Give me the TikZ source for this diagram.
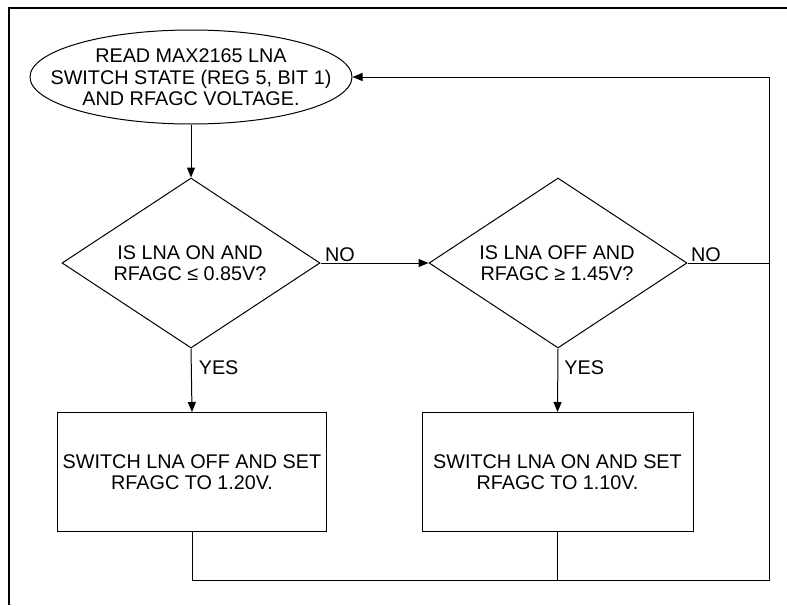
\documentclass[tikz,border=0pt]{standalone}
\usepackage{fontspec}
\setmainfont{Liberation Sans}
\usetikzlibrary{shapes.geometric,arrows.meta}
\begin{document}
\begin{tikzpicture}[x=1pt,y=-1pt,
  line width=1pt,
  every node/.style={font=\fontsize{19.8}{21.5}\selectfont, align=center, inner sep=0pt},
  flow/.style={-{Triangle[length=10pt,width=8pt]}},
  lbl/.style={anchor=west},
  dec/.style={draw, diamond, minimum width=258pt, minimum height=170pt}]
\useasboundingbox (0,0) rectangle (787,605);
\draw[line width=1.6pt] (9,605) -- (9,8) -- (787,8);
\node[draw, ellipse, minimum width=322pt, minimum height=94pt] (read) at (191,77) {};
\node (readtxt) at (191,77.5)
  {READ MAX2165 LNA\\SWITCH STATE (REG 5, BIT 1)\\AND RFAGC VOLTAGE.};
\node[dec] (d1) at (191,263) {};
\node (t1) at (190,263) {IS LNA ON AND\\RFAGC ≤ 0.85V?};
\node[dec] (d2) at (558,263) {};
\node (t2) at (557,263) {IS LNA OFF AND\\RFAGC ≥ 1.45V?};
\node[draw, minimum width=269pt, minimum height=119pt] (b1) at (192,472)
  {SWITCH LNA OFF AND SET\\RFAGC TO 1.20V.};
\node[draw, minimum width=271pt, minimum height=119pt] (b2) at (557.5,472)
  {SWITCH LNA ON AND SET\\RFAGC TO 1.10V.};
\coordinate (br) at (769,580);
\coordinate (tr) at (769,77);
\coordinate (mr) at (769,263);
\draw[flow] (read.south) -- (d1.north);
\draw[flow] (d1.east) -- (d2.west) node[pos=0, anchor=south west, yshift=1pt, xshift=4pt] {NO};
\draw (d2.east) -- (mr) node[pos=0, anchor=south west, yshift=1pt, xshift=3pt] {NO};
\draw[flow] (d1.south) -- (b1.north) node[pos=0.3, lbl, xshift=7pt] {YES};
\draw[flow] (d2.south) -- (b2.north) node[pos=0.3, lbl, xshift=6pt] {YES};
\draw (b1.south) |- (br) -- (tr);
\draw (b2.south) -- (b2.south |- br);
\draw[flow] (tr) -- (read.east);
\end{tikzpicture}
\end{document}
